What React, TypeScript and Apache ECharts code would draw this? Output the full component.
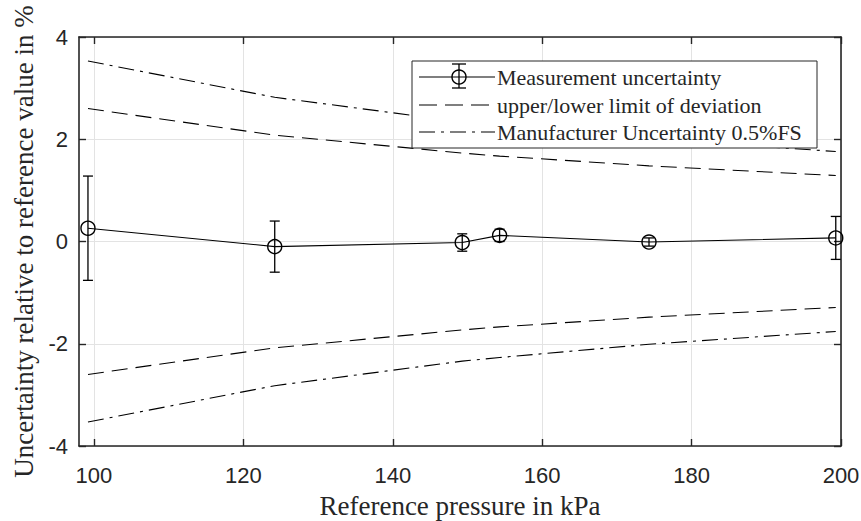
import React, { useEffect, useRef } from "react";
import * as echarts from "echarts";

const pressure = [99.2, 124.2, 149.3, 154.3, 174.3, 199.3];
const measured = [0.26, -0.1, -0.02, 0.12, -0.01, 0.07];
const uncertainty = [1.02, 0.5, 0.17, 0.12, 0.08, 0.42];
const upperLimit = [2.6, 2.08, 1.73, 1.67, 1.48, 1.29];
const lowerLimit = [-2.6, -2.08, -1.73, -1.67, -1.48, -1.29];
const upperManufacturer = [3.53, 2.82, 2.34, 2.27, 2.01, 1.76];
const lowerManufacturer = [-3.53, -2.82, -2.34, -2.27, -2.01, -1.76];
const xTicks = [100, 120, 140, 160, 180, 200];
const legendNames = [
  "Measurement uncertainty",
  "upper/lower limit of deviation",
  "Manufacturer Uncertainty 0.5%FS",
];

const AXIS_COLOR = "#262626";
const SERIF = "'Liberation Serif', 'Times New Roman', serif";
const SANS = "'Liberation Sans', Arial, sans-serif";
const DASH = [16, 8];
const DASHDOT = [16, 6, 3, 6];

export default function App() {
  const ref = useRef<HTMLDivElement>(null);
  useEffect(() => {
    if (!ref.current) return;
    const chart = echarts.init(ref.current, undefined, { renderer: "svg" });
    const pair = (arr: number[]) => pressure.map((p, i) => [p, arr[i]]);
    const axisCommon = {
      axisLine: { show: true, onZero: false, lineStyle: { color: AXIS_COLOR, width: 1.6 } },
      axisTick: { show: true, inside: true, length: 7, lineStyle: { color: AXIS_COLOR, width: 1.4 } },
    };
    const xBase = {
      type: "value",
      min: 98,
      max: 200,
      ...axisCommon,
      axisTick: { ...axisCommon.axisTick, customValues: xTicks },
    };
    const yBase = {
      type: "value",
      min: -4,
      max: 4,
      interval: 2,
      ...axisCommon,
    };
    const legendY = [77, 105, 132];
    const lx0 = 419, lx1 = 495;
    const Z = 100;
    const option = {
      animation: false,
      backgroundColor: "#ffffff",
      grid: { left: 79, right: 20, top: 37, bottom: 75, containLabel: false, outerBoundsMode: "none" },
      xAxis: [
        {
          ...xBase,
          position: "bottom",
          name: "Reference pressure in kPa",
          nameLocation: "middle",
          nameGap: 46,
          nameTextStyle: { fontFamily: SERIF, fontSize: 27, color: AXIS_COLOR },
          axisLabel: {
            customValues: xTicks,
            fontFamily: SANS,
            fontSize: 22,
            color: AXIS_COLOR,
            margin: 18,
          },
          splitLine: { show: true, lineStyle: { color: "#e3e3e3", width: 1 } },
        },
        {
          ...xBase,
          position: "top",
          axisLabel: { show: false },
          splitLine: { show: false },
        },
      ],
      yAxis: [
        {
          ...yBase,
          position: "left",
          name: "Uncertainty relative to reference value in %",
          nameLocation: "middle",
          nameGap: 39,
          nameTextStyle: { fontFamily: SERIF, fontSize: 27, color: AXIS_COLOR },
          axisLabel: { fontFamily: SANS, fontSize: 22, color: AXIS_COLOR, margin: 11 },
          splitLine: { show: true, lineStyle: { color: "#e3e3e3", width: 1 } },
        },
        {
          ...yBase,
          position: "right",
          axisLabel: { show: false },
          splitLine: { show: false },
        },
      ],
      series: [
        {
          type: "line",
          data: pair(upperManufacturer),
          symbol: "none",
          lineStyle: { color: "#000", width: 1.1, type: DASHDOT },
          z: 2,
        },
        {
          type: "line",
          data: pair(lowerManufacturer),
          symbol: "none",
          lineStyle: { color: "#000", width: 1.1, type: DASHDOT },
          z: 2,
        },
        {
          type: "line",
          data: pair(upperLimit),
          symbol: "none",
          lineStyle: { color: "#000", width: 1.1, type: DASH },
          z: 2,
        },
        {
          type: "line",
          data: pair(lowerLimit),
          symbol: "none",
          lineStyle: { color: "#000", width: 1.1, type: DASH },
          z: 2,
        },
        {
          type: "custom",
          data: pressure.map((p, i) => [p, measured[i], uncertainty[i]]),
          z: 3,
          renderItem: (params: any, api: any) => {
            const x = api.value(0);
            const y = api.value(1);
            const e = api.value(2);
            const top = api.coord([x, y + e]);
            const bot = api.coord([x, y - e]);
            const hw = 5;
            const st = { stroke: "#000", lineWidth: 1.3 };
            return {
              type: "group",
              children: [
                { type: "line", shape: { x1: top[0], y1: top[1], x2: bot[0], y2: bot[1] }, style: st },
                { type: "line", shape: { x1: top[0] - hw, y1: top[1], x2: top[0] + hw, y2: top[1] }, style: st },
                { type: "line", shape: { x1: bot[0] - hw, y1: bot[1], x2: bot[0] + hw, y2: bot[1] }, style: st },
              ],
            };
          },
        },
        {
          type: "line",
          data: pair(measured),
          symbol: "circle",
          symbolSize: 14,
          itemStyle: { color: "rgba(0,0,0,0)", borderColor: "#000", borderWidth: 1.4 },
          lineStyle: { color: "#000", width: 1.1 },
          z: 4,
        },
      ],
      graphic: [
        {
          type: "rect",
          z: Z,
          shape: { x: 412, y: 61, width: 405, height: 87 },
          style: { fill: "#ffffff", stroke: AXIS_COLOR, lineWidth: 1 },
        },
        { type: "line", z: Z + 1, shape: { x1: lx0, y1: legendY[0], x2: lx1, y2: legendY[0] }, style: { stroke: "#000", lineWidth: 1.1 } },
        { type: "circle", z: Z + 1, shape: { cx: 459, cy: legendY[0], r: 7 }, style: { fill: "rgba(0,0,0,0)", stroke: "#000", lineWidth: 1.4 } },
        { type: "line", z: Z + 1, shape: { x1: 459, y1: legendY[0] - 13, x2: 459, y2: legendY[0] + 11 }, style: { stroke: "#000", lineWidth: 1.3 } },
        { type: "line", z: Z + 1, shape: { x1: 452, y1: legendY[0] - 13, x2: 466, y2: legendY[0] - 13 }, style: { stroke: "#000", lineWidth: 1.3 } },
        { type: "line", z: Z + 1, shape: { x1: 452, y1: legendY[0] + 11, x2: 466, y2: legendY[0] + 11 }, style: { stroke: "#000", lineWidth: 1.3 } },
        { type: "line", z: Z + 1, shape: { x1: lx0, y1: legendY[1], x2: lx1, y2: legendY[1] }, style: { stroke: "#000", lineWidth: 1.1, lineDash: [18, 8] } },
        { type: "line", z: Z + 1, shape: { x1: lx0, y1: legendY[2], x2: lx1, y2: legendY[2] }, style: { stroke: "#000", lineWidth: 1.1, lineDash: DASHDOT } },
        ...legendNames.map((n, i) => ({
          type: "text",
          z: Z + 1,
          x: 497,
          y: legendY[i],
          style: {
            text: n,
            font: `22px ${SERIF}`,
            fill: AXIS_COLOR,
            verticalAlign: "middle",
            align: "left",
          },
        })),
      ],
    };
    chart.setOption(option as any);
    return () => chart.dispose();
  }, []);
  return (
    <div
      ref={ref}
      style={{ position: "absolute", left: 0, top: 0, width: 861, height: 521 }}
    />
  );
}
